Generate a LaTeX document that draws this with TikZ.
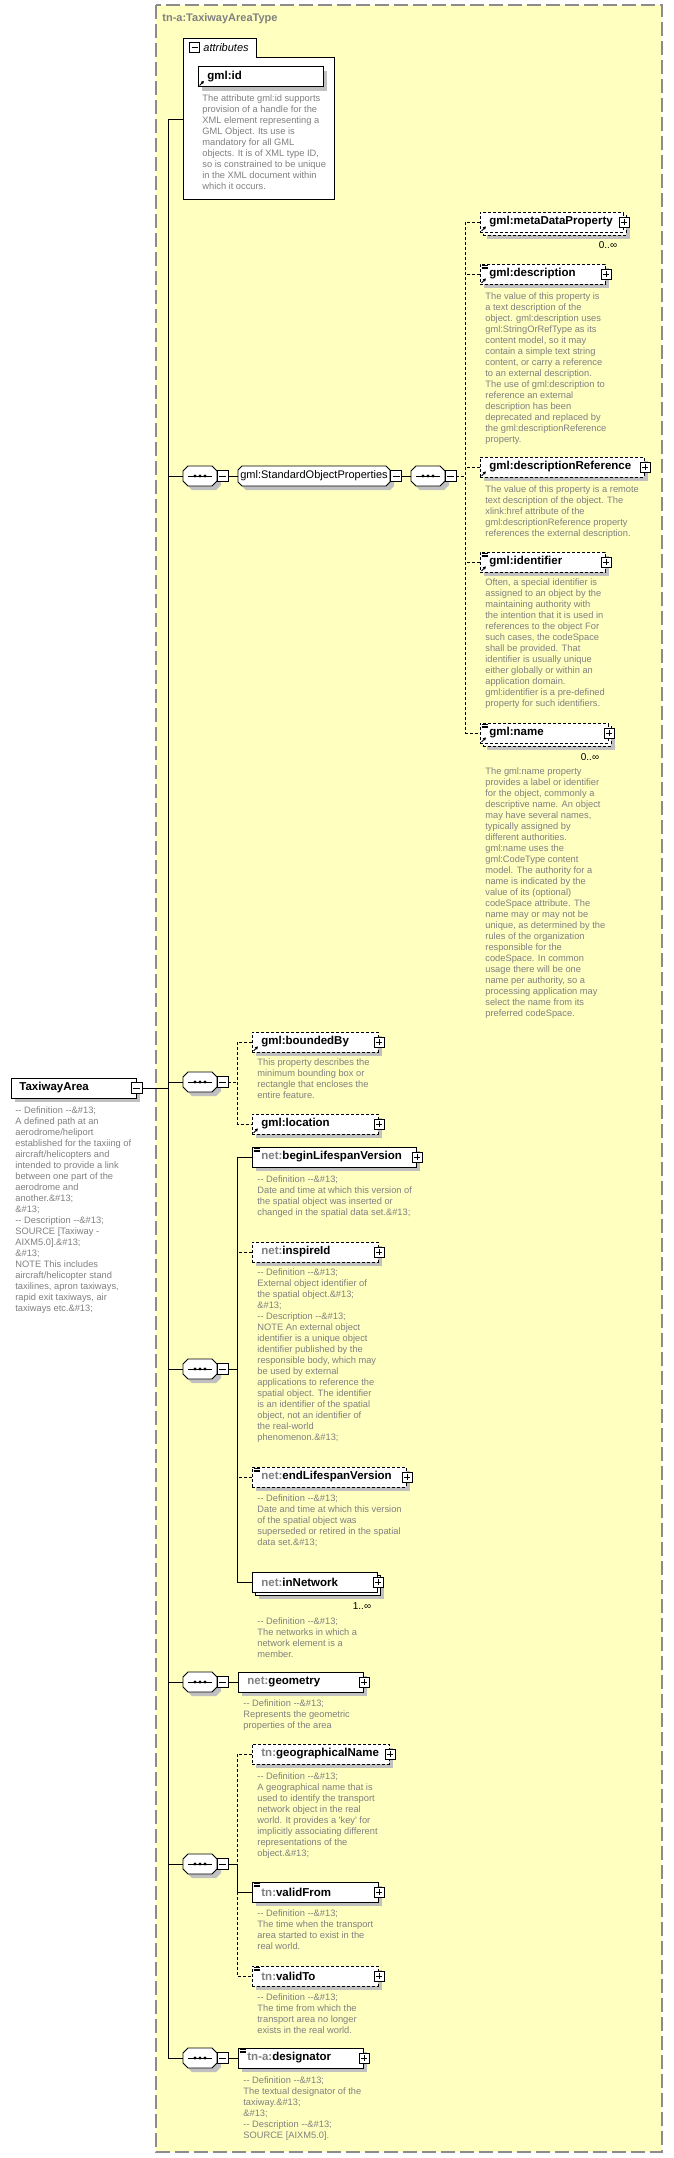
\documentclass[tikz,border=0pt]{standalone}
\usepackage{fontspec}
\setmainfont{Liberation Sans}[Ligatures=TeXOff]
\usetikzlibrary{shadows,arrows.meta}
\definecolor{bgyellow}{HTML}{FFFFC0}
\definecolor{txtgray}{HTML}{808080}
\definecolor{shadowgray}{HTML}{C0C0C0}
\definecolor{framegray}{HTML}{8C8C8C}
\newcommand\ent{\&\#13;}
\newcommand\pfx[1]{\textcolor{txtgray}{#1}}
\newcommand\octa[2]{(#2,-10) -- (#1-#2,-10) -- (#1,-10+#2) -- (#1,10-#2) -- (#1-#2,10) -- (#2,10) -- (0,10-#2) -- (0,-10+#2) -- cycle}
\tikzset{
 elembox/.style={draw,fill=white,minimum height=20pt,inner sep=0pt,anchor=west},
 shad/.style={drop shadow={shadow xshift=4pt,shadow yshift=-4pt,fill=shadowgray,opacity=1}},
 opt/.style={dash pattern=on 3pt off 2pt},
 lbl/.style={anchor=west,inner sep=0pt,font=\fontsize{11.5}{13}\selectfont\bfseries},
 desctext/.style={anchor=north west,inner sep=0pt,align=left,text=txtgray,font=\fontsize{9.3}{11}\selectfont},
 occ/.style={inner sep=0pt,font=\fontsize{10}{12}\selectfont},
 plusbox/.style={draw,fill=white,minimum size=10pt,inner sep=0pt,line width=.6pt,
  path picture={\draw[line width=.6pt] ([xshift=2pt]path picture bounding box.west) -- ([xshift=-2pt]path picture bounding box.east)
   ([yshift=-2pt]path picture bounding box.north) -- ([yshift=2pt]path picture bounding box.south);}},
 minusbox/.style={draw,fill=white,minimum size=11pt,inner sep=0pt,line width=.6pt,
  path picture={\draw[line width=.6pt] ([xshift=2pt]path picture bounding box.west) -- ([xshift=-2pt]path picture bounding box.east);}}
}
% element box: [style] name, x, y, width, label
\newcommand\elem[6][]{\node[elembox,shad,#1,minimum width=#5pt] (#2) at (#3,#4) {};
 \node[lbl] (#2-l) at ([xshift=9pt]#2.west) {#6};
 \node[plusbox] (#2-p) at (#2.east) {};}
\newcommand\elemmulti[6][]{\node[elembox,shad,#1,minimum width=#5pt] (#2-b) at (#3+3,#4+3) {};
 \node[elembox,#1,minimum width=#5pt] (#2) at (#3,#4) {};
 \node[lbl] (#2-l) at ([xshift=9pt]#2.west) {#6};
 \node[plusbox] (#2-p) at (#2.east) {};}
\newcommand\refmark[1]{\draw[line width=.9pt,-{Triangle[length=3pt,width=3pt]}] ([xshift=1.5pt,yshift=1.5pt]#1.south west) -- ++(4.5pt,4.5pt);}
\newcommand\txtmark[1]{\foreach \d in {1.8,3.4,5}{\draw[line width=.6pt] ([xshift=1.5pt,yshift=-\d pt]#1.north west) -- ++(6pt,0pt);}}
% sequence compositor: name, x, y
\newcommand\seqnode[3]{\begin{scope}[shift={(#2,#3)}]
 \fill[shadowgray,shift={(4,4)}] \octa{34}{5};
 \filldraw[fill=white] \octa{34}{5};
 \draw (5,0) -- (29,0);
 \foreach \d in {12,17,22} \fill (\d,0) circle (1.6);
 \node[minimum width=34pt,minimum height=20pt,inner sep=0pt] (#1) at (17,0) {};
 \node[minusbox] (#1-m) at (39.5,0) {};
\end{scope}}
\newcommand\desc[4]{\node[desctext] (#1) at (#2,#3) {#4};}
\begin{document}
\begin{tikzpicture}[x=1pt,y=-1pt,line width=.8pt]
\useasboundingbox (0,0) rectangle (673,2158);
\draw[framegray,fill=bgyellow,line width=1.5pt,dash pattern=on 14pt off 5pt] (156,5) rectangle (662,2152);
\node[anchor=west,inner sep=0pt,text=txtgray,font=\fontsize{11}{13}\selectfont\bfseries] (title) at (162,19) {tn-a:TaxiwayAreaType};
% attributes
\filldraw[fill=white] (183,38) -- (256,38) -- (256,57) -- (334,57) -- (334,199) -- (183,199) -- cycle;
\node[minimum width=151pt,minimum height=161pt,anchor=north west,inner sep=0pt] (attrs) at (183,38) {};
\node[minusbox,minimum size=10pt] (attrs-m) at (194.5,47.5) {};
\node[anchor=west,inner sep=0pt,font=\fontsize{11}{13}\selectfont\itshape] (attrs-l) at (203,47.5) {attributes};
\node[elembox,shad,minimum width=125pt] (gid) at (198,76.5) {};
\node[lbl] (gid-l) at ([xshift=9pt]gid.west) {gml:id};
\refmark{gid}
\desc{gid-d}{202}{94.5}{The attribute gml:id supports\\provision of a handle for the\\XML element representing a\\GML Object. Its use is\\mandatory for all GML\\objects. It is of XML type ID,\\so is constrained to be unique\\in the XML document within\\which it occurs.}
% TaxiwayArea
\node[elembox,shad,minimum width=125pt] (ta) at (11,1088) {};
\node[lbl] (ta-l) at ([xshift=8pt]ta.west) {TaxiwayArea};
\node[minusbox] (ta-m) at ([xshift=-.5pt]ta.east) {};
\desc{ta-d}{15}{1106.5}{-- Definition --\ent\\A defined path at an\\aerodrome/heliport\\established for the taxiing of\\aircraft/helicopters and\\intended to provide a link\\between one part of the\\aerodrome and\\another.\ent\\\ent\\-- Description --\ent\\SOURCE [Taxiway -\\AIXM5.0].\ent\\\ent\\NOTE This includes\\aircraft/helicopter stand\\taxilines, apron taxiways,\\rapid exit taxiways, air\\taxiways etc.\ent}
% gml:StandardObjectProperties
\seqnode{s1}{183}{476}
\begin{scope}[shift={(238,476)}]
 \fill[shadowgray,shift={(4,4)}] \octa{152}{4};
 \filldraw[fill=white] \octa{152}{4};
 \node[minimum width=152pt,minimum height=20pt,inner sep=0pt] (sop) at (76,0) {};
 \node[inner sep=0pt,font=\fontsize{11}{13}\selectfont] (sop-l) at (sop.center) {gml:StandardObjectProperties};
 \node[minusbox] (sop-m) at (158,0) {};
\end{scope}
\seqnode{s2}{411}{476}
\elemmulti[opt]{md}{480}{222}{143}{gml:metaDataProperty}\refmark{md}
\node[occ] (md-o) at (608,245) {0..∞};
\elem[opt]{desc}{480}{274}{125}{gml:description}\refmark{desc}\txtmark{desc}
\desc{desc-d}{485}{292.5}{The value of this property is\\a text description of the\\object. gml:description uses\\gml:StringOrRefType as its\\content model, so it may\\contain a simple text string\\content, or carry a reference\\to an external description.\\The use of gml:description to\\reference an external\\description has been\\deprecated and replaced by\\the gml:descriptionReference\\property.}
\elem[opt]{dref}{480}{467}{164}{gml:descriptionReference}\refmark{dref}
\desc{dref-d}{485}{485.5}{The value of this property is a remote\\text description of the object. The\\xlink:href attribute of the\\gml:descriptionReference property\\references the external description.}
\elem[opt]{ident}{480}{562}{125}{gml:identifier}\refmark{ident}\txtmark{ident}
\desc{ident-d}{485}{578.5}{Often, a special identifier is\\assigned to an object by the\\maintaining authority with\\the intention that it is used in\\references to the object For\\such cases, the codeSpace\\shall be provided. That\\identifier is usually unique\\either globally or within an\\application domain.\\gml:identifier is a pre-defined\\property for such identifiers.}
\elemmulti[opt]{gname}{480}{733}{128}{gml:name}\refmark{gname}\txtmark{gname}
\node[occ] (gname-o) at (590,757) {0..∞};
\desc{gname-d}{485}{767.5}{The gml:name property\\provides a label or identifier\\for the object, commonly a\\descriptive name.  An object\\may have several names,\\typically assigned by\\different authorities.\\gml:name uses the\\gml:CodeType content\\model.  The authority for a\\name is indicated by the\\value of its (optional)\\codeSpace attribute.  The\\name may or may not be\\unique, as determined by the\\rules of the organization\\responsible for the\\codeSpace.  In common\\usage there will be one\\name per authority, so a\\processing application may\\select the name from its\\preferred codeSpace.}
% boundedBy, location
\seqnode{s3}{183}{1082}
\elem[opt]{bb}{252}{1042}{126}{gml:boundedBy}\refmark{bb}
\desc{bb-d}{257}{1058.5}{This property describes the\\minimum bounding box or\\rectangle that encloses the\\entire feature.}
\elem[opt]{loc}{252}{1124}{126}{gml:location}\refmark{loc}
% net elements
\seqnode{s4}{183}{1369}
\elem{blv}{252}{1157}{164}{\pfx{net:}beginLifespanVersion}\txtmark{blv}
\desc{blv-d}{257}{1175.5}{-- Definition --\ent\\Date and time at which this version of\\the spatial object was inserted or\\changed in the spatial data set.\ent}
\elem[opt]{iid}{252}{1252}{126}{\pfx{net:}inspireId}
\desc{iid-d}{257}{1268.5}{-- Definition --\ent\\External object identifier of\\the spatial object.\ent\\\ent\\-- Description --\ent\\NOTE An external object\\identifier is a unique object\\identifier published by the\\responsible body, which may\\be used by external\\applications to reference the\\spatial object. The identifier\\is an identifier of the spatial\\object, not an identifier of\\the real-world\\phenomenon.\ent}
\elem[opt]{elv}{252}{1477}{154}{\pfx{net:}endLifespanVersion}\txtmark{elv}
\desc{elv-d}{257}{1494.5}{-- Definition --\ent\\Date and time at which this version\\of the spatial object was\\superseded or retired in the spatial\\data set.\ent}
\elemmulti{innet}{252}{1582}{125}{\pfx{net:}inNetwork}
\node[occ] (innet-o) at (362,1606) {1..∞};
\desc{innet-d}{257}{1617.5}{-- Definition --\ent\\The networks in which a\\network element is a\\member.}
\seqnode{s5}{183}{1682}
\elem{geom}{238}{1682}{125}{\pfx{net:}geometry}
\desc{geom-d}{243}{1699.5}{-- Definition --\ent\\Represents the geometric\\properties of the area}
% tn elements
\seqnode{s6}{183}{1864}
\elem[opt]{gn}{252}{1754}{137}{\pfx{tn:}geographicalName}
\desc{gn-d}{257}{1772.5}{-- Definition --\ent\\A geographical name that is\\used to identify the transport\\network object in the real\\world. It provides a 'key' for\\implicitly associating different\\representations of the\\object.\ent}
\elem{vf}{252}{1892}{126}{\pfx{tn:}validFrom}\txtmark{vf}
\desc{vf-d}{257}{1909.5}{-- Definition --\ent\\The time when the transport\\area started to exist in the\\real world.}
\elem[opt]{vt}{252}{1976}{126}{\pfx{tn:}validTo}\txtmark{vt}
\desc{vt-d}{257}{1993.5}{-- Definition --\ent\\The time from which the\\transport area no longer\\exists in the real world.}
\seqnode{s7}{183}{2058}
\elem{desig}{238}{2058}{125}{\pfx{tn-a:}designator}\txtmark{desig}
\desc{desig-d}{243}{2076.5}{-- Definition --\ent\\The textual designator of the\\taxiway.\ent\\\ent\\-- Description --\ent\\SOURCE [AIXM5.0].}
% connectors
\coordinate (trunk-t) at ([xshift=-15pt]attrs.west);
\draw (attrs.west) -- (trunk-t) -- (trunk-t |- s7.west);
\draw (ta-m.east) -- (ta-m.east -| trunk-t);
\foreach \s in {s1,s3,s4,s5,s6,s7} \draw (\s.west -| trunk-t) -- (\s.west);
\draw (s1-m.east) -- (sop.west); \draw (sop-m.east) -- (s2.west);
\coordinate (f2) at ([xshift=9pt]s2-m.east);
\draw[opt] (s2-m.east) -- (f2); \draw[opt] (md.west) -| (f2) |- (gname.west);
\foreach \n in {desc,dref,ident} \draw[opt] (\n.west) -- (\n.west -| f2);
\coordinate (f3) at ([xshift=9pt]s3-m.east);
\draw[opt] (s3-m.east) -- (f3); \draw[opt] (bb.west) -| (f3) |- (loc.west);
\coordinate (f4) at ([xshift=9pt]s4-m.east);
\draw (s4-m.east) -- (f4); \draw (blv.west) -| (f4) |- (innet.west);
\foreach \n in {iid,elv} \draw[opt] (\n.west) -- (\n.west -| f4);
\draw (s5-m.east) -- (geom.west);
\coordinate (f6) at ([xshift=9pt]s6-m.east);
\draw[opt] (gn.west) -| (f6); \draw (s6-m.east) -- (f6) |- (vf.west); \draw[opt] (vf.west -| f6) |- (vt.west);
\draw (s7-m.east) -- (desig.west);
\end{tikzpicture}
\end{document}
